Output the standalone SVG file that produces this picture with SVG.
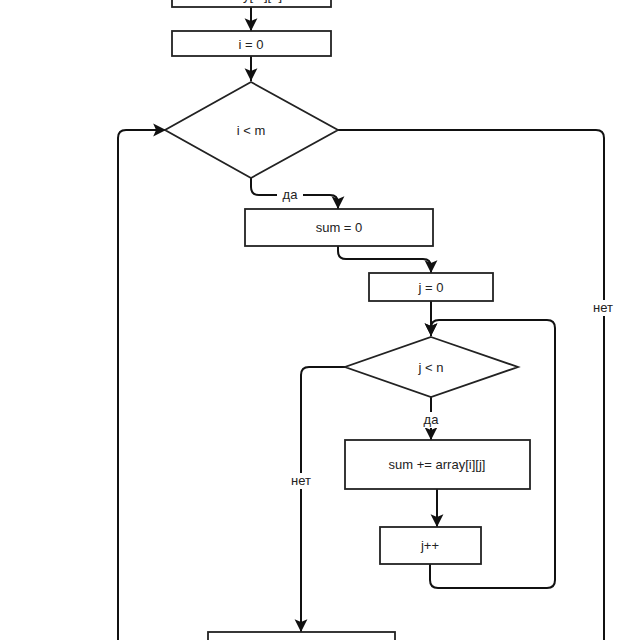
<svg xmlns="http://www.w3.org/2000/svg" width="640" height="640" viewBox="0 0 640 640">
<style>
.box{fill:#fff;stroke:#222;stroke-width:1.8}
.conn{fill:none;stroke:#111;stroke-width:2}
.t{font-family:"Liberation Sans",Arial,sans-serif;font-size:13px;fill:#222;text-anchor:middle;dominant-baseline:central}
.lbl{fill:#fff;stroke:none}
</style>
<defs>
<marker id="arr" markerUnits="userSpaceOnUse" markerWidth="14" markerHeight="14" viewBox="0 0 12 12" refX="11" refY="6" orient="auto">
<path d="M0,0.5 L11,6 L0,11.5 L2.5,6 z" fill="#111"/>
</marker>
</defs>
<rect width="640" height="640" fill="#fff"/>
<g id="connectors">
<path class="conn" d="M251,7 L251,31" marker-end="url(#arr)"/>
<path class="conn" d="M251,56 L251,81" marker-end="url(#arr)"/>
<path class="conn" d="M251,178 L251,187 Q251,195 259,195 L330,195 Q338,195 338,203 L338,209" marker-end="url(#arr)"/>
<path class="conn" d="M338,246 L338,251 Q338,259 346,259 L423,259 Q431,259 431,267 L431,273" marker-end="url(#arr)"/>
<path class="conn" d="M431,301 L431,336" marker-end="url(#arr)"/>
<path class="conn" d="M430,564 L430,580 Q430,588 438,588 L547,588 Q555,588 555,580 L555,328 Q555,320 547,320 L439,320 Q431,320 431,328 L431,336" marker-end="url(#arr)"/>
<path class="conn" d="M437,489 L437,527" marker-end="url(#arr)"/>
<path class="conn" d="M431,397 L431,440" marker-end="url(#arr)"/>
<path class="conn" d="M345,367 L309,367 Q301,367 301,375 L301,632" marker-end="url(#arr)"/>
<path class="conn" d="M338,130 L596,130 Q604,130 604,138 L604,640"/>
<path class="conn" d="M118,640 L118,138 Q118,130 126,130 L166,130" marker-end="url(#arr)"/>
<rect class="lbl" x="277" y="187" width="26" height="16"/>
<text class="t" x="290" y="194">да</text>
<rect class="lbl" x="418" y="412" width="26" height="16"/>
<text class="t" x="431" y="419">да</text>
<rect class="lbl" x="286" y="473" width="30" height="16"/>
<text class="t" x="301" y="480">нет</text>
<rect class="lbl" x="589" y="300" width="30" height="16"/>
<text class="t" x="603" y="307">нет</text>
</g>
<g id="start">
<rect class="box" x="172" y="-20" width="159" height="27"/>
<text class="t" x="251" y="-5">array[m][n]</text>
</g>
<g id="i0">
<rect class="box" x="172" y="31" width="159" height="25"/>
<text class="t" x="251" y="44">i = 0</text>
</g>
<g id="cond_i">
<polygon class="box" points="251,82 338,130 251,178 165,130"/>
<text class="t" x="251" y="130">i &lt; m</text>
</g>
<g id="sum0">
<rect class="box" x="245" y="209" width="188" height="37"/>
<text class="t" x="339" y="227">sum = 0</text>
</g>
<g id="j0">
<rect class="box" x="369" y="273" width="124" height="28"/>
<text class="t" x="431" y="287">j = 0</text>
</g>
<g id="cond_j">
<polygon class="box" points="431,337 518,367 431,397 345,367"/>
<text class="t" x="431" y="367">j &lt; n</text>
</g>
<g id="sumadd">
<rect class="box" x="345" y="440" width="185" height="49"/>
<text class="t" x="437" y="464">sum += array[i][j]</text>
</g>
<g id="jinc">
<rect class="box" x="380" y="527" width="101" height="37"/>
<text class="t" x="430" y="545">j++</text>
</g>
<g id="end">
<rect class="box" x="208" y="632" width="187" height="30"/>
</g>
</svg>
